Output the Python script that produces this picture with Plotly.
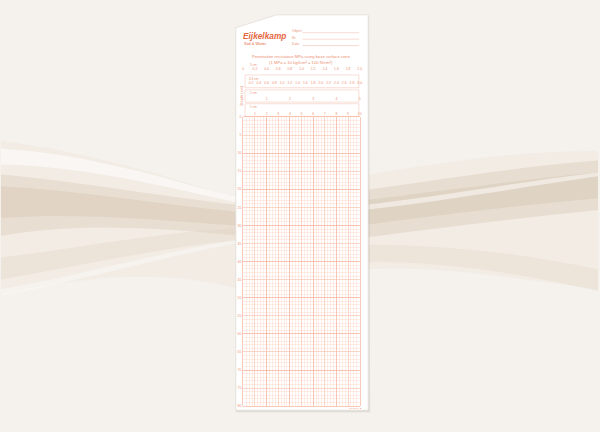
import plotly.graph_objects as go

W, H = 600, 432

# ---------------- data ----------------
depth_labels = [0, 5, 10, 15, 20, 25, 30, 35, 40, 45, 50, 55, 60, 65, 70, 75, 80]
depth_major = [0, 10, 20, 30, 40, 50, 60, 70, 80]
depth_mid = [5, 15, 25, 35, 45, 55, 65, 75]
resistance_major = [0, 2, 4, 6, 8, 10]
resistance_mid = [1, 3, 5, 7, 9]

cone_names = ["5 cm²", "3.3 cm²", "2 cm²", "1 cm²"]
cone_max = [2, 3, 5, 10]
cone_ticks = [
    [0, 0.2, 0.4, 0.6, 0.8, 1.0, 1.2, 1.4, 1.6, 1.8, 2.0],
    [0.2, 0.4, 0.6, 0.8, 1.0, 1.2, 1.4, 1.6, 1.8, 2.0, 2.2, 2.4, 2.6, 2.8, 3.0],
    [1, 2, 3, 4, 5],
    [1, 2, 3, 4, 5, 6, 7, 8, 9, 10],
]
cone_ticktext = [
    ["0", "0.2", "0.4", "0.6", "0.8", "1.0", "1.2", "1.4", "1.6", "1.8", "2.0"],
    ["0.2", "0.4", "0.6", "0.8", "1.0", "1.2", "1.4", "1.6", "1.8", "2.0", "2.2", "2.4", "2.6", "2.8", "3.0"],
    ["1", "2", "3", "4", "5"],
    ["1", "2", "3", "4", "5", "6", "7", "8", "9", "10"],
]

# ---------------- style ----------------
TXT = "#ec9072"
LOGO = "#e5673f"
FINE = "#fbdcce"
MID = "#f7c9b7"
MAJ = "#f3b49d"
FONT = "Liberation Sans"


def fx(px):
    return px / W


def fy(py):
    return 1 - py / H


def path(cmds):
    out = []
    for c in cmds:
        s = c[0]
        for (x, y) in c[1:]:
            s += " %.5f,%.5f" % (fx(x), fy(y))
        out.append(s)
    return " ".join(out) + " Z"


shapes = []


def wave(cmds, color):
    shapes.append(dict(type="path", xref="paper", yref="paper", layer="below",
                       path=path(cmds), fillcolor=color, line=dict(width=0)))


# background waves (left)
wave([("M", (0, 140)), ("C", (80, 150), (170, 175), (240, 200)),
      ("L", (240, 290)), ("C", (160, 268), (80, 278), (0, 295))], "rgba(232,222,208,0.28)")
wave([("M", (0, 174)), ("C", (70, 180), (160, 196), (240, 205)),
      ("L", (240, 236)), ("C", (160, 228), (80, 222), (0, 236))], "rgba(218,202,180,0.4)")
wave([("M", (0, 186)), ("C", (80, 190), (160, 205), (240, 212)),
      ("L", (240, 226)), ("C", (160, 220), (80, 212), (0, 218))], "rgba(208,190,166,0.3)")
wave([("M", (0, 148)), ("C", (90, 153), (170, 180), (240, 198)),
      ("L", (240, 203)), ("C", (170, 188), (90, 166), (0, 164))], "rgba(255,255,255,0.55)")
wave([("M", (0, 258)), ("C", (80, 248), (160, 232), (240, 228)),
      ("L", (240, 240)), ("C", (160, 248), (80, 266), (0, 280))], "rgba(226,212,194,0.32)")
wave([("M", (0, 290)), ("C", (80, 276), (170, 250), (240, 240)),
      ("L", (240, 243)), ("C", (170, 255), (80, 282), (0, 296))], "rgba(255,255,255,0.35)")

# background waves (right)
wave([("M", (365, 175)), ("C", (450, 160), (530, 150), (600, 150)),
      ("L", (600, 290)), ("C", (520, 280), (440, 265), (365, 270))], "rgba(232,222,208,0.28)")
wave([("M", (365, 190)), ("C", (450, 178), (530, 165), (600, 160)),
      ("L", (600, 210)), ("C", (520, 218), (440, 228), (365, 238))], "rgba(216,200,178,0.4)")
wave([("M", (365, 200)), ("C", (450, 190), (530, 178), (600, 172)),
      ("L", (600, 198)), ("C", (520, 205), (440, 215), (365, 225))], "rgba(206,188,164,0.3)")
wave([("M", (365, 205)), ("C", (450, 195), (530, 180), (600, 172)),
      ("L", (600, 176)), ("C", (530, 186), (450, 200), (365, 210))], "rgba(255,255,255,0.5)")
wave([("M", (365, 245)), ("C", (450, 245), (530, 255), (600, 270)),
      ("L", (600, 292)), ("C", (530, 275), (450, 262), (365, 262))], "rgba(224,210,192,0.3)")

# paper shadow + sheet
shapes.append(dict(type="path", xref="paper", yref="paper", layer="below",
                   path=path([("M", (236, 27)), ("L", (277, 14)), ("L", (370, 14)),
                              ("L", (371, 414)), ("L", (236, 414))]),
                   fillcolor="rgba(150,140,130,0.22)", line=dict(width=0)))
shapes.append(dict(type="path", xref="paper", yref="paper", layer="below",
                   path=path([("M", (236, 26)), ("L", (277, 13)), ("L", (369, 13)),
                              ("L", (369, 412)), ("L", (236, 412))]),
                   fillcolor="#ffffff", line=dict(color="#e2ded9", width=0.8)))

# form lines
for yy in [31, 37.5, 44]:
    shapes.append(dict(type="line", xref="paper", yref="paper", layer="below",
                       x0=fx(303), x1=fx(360), y0=fy(yy), y1=fy(yy),
                       line=dict(color="#f3c2b1", width=0.6)))

# boxes around cone scale rows 2-4
for (y0, y1) in [(73.7, 86.5), (88.7, 101), (102.7, 115.5)]:
    shapes.append(dict(type="rect", xref="paper", yref="paper", layer="below",
                       x0=fx(245.3), x1=fx(359.7), y0=fy(y1), y1=fy(y0),
                       line=dict(color="#f5c8b8", width=0.6)))

GX0, GX1 = 243.5, 360.5
GY0, GY1 = 116, 408
xdom = [fx(GX0), fx(GX1)]
ydom = [fy(GY1), fy(GY0)]

fig = go.Figure()
fig.add_trace(go.Scatter(x=[], y=[], xaxis="x", yaxis="y", showlegend=False))
fig.add_trace(go.Scatter(x=[], y=[], xaxis="x2", yaxis="y2", showlegend=False))
fig.add_trace(go.Scatter(x=[], y=[], xaxis="x", yaxis="y3", showlegend=False))
for i in range(4):
    fig.add_trace(go.Scatter(x=[], y=[], xaxis="x%d" % (i + 3), yaxis="y", showlegend=False))

tickfont = dict(size=3.4, color=TXT, family=FONT)

layout = dict(
    width=W, height=H, margin=dict(l=0, r=0, t=0, b=0),
    paper_bgcolor="#f5f2ee", plot_bgcolor="rgba(0,0,0,0)",
    showlegend=False, shapes=shapes, hovermode=False,
    xaxis=dict(domain=xdom, range=[0, 10], tickvals=resistance_major, showticklabels=False,
               showgrid=True, gridcolor=MAJ, gridwidth=0.7, zeroline=False, ticks="",
               minor=dict(dtick=0.25, showgrid=True, gridcolor=FINE, gridwidth=0.5),
               showline=True, mirror=True, linecolor=MAJ, linewidth=0.7, fixedrange=True),
    yaxis=dict(domain=ydom, range=[80, 0], tickvals=depth_major, showticklabels=False,
               showgrid=True, gridcolor=MAJ, gridwidth=0.7, zeroline=False, ticks="",
               minor=dict(dtick=1, showgrid=True, gridcolor=FINE, gridwidth=0.5),
               showline=True, mirror=True, linecolor=MAJ, linewidth=0.7, fixedrange=True),
    xaxis2=dict(domain=xdom, range=[0, 10], overlaying="x", anchor="y2", tickvals=resistance_mid,
                showticklabels=False, showgrid=True, gridcolor=MID, gridwidth=0.6,
                zeroline=False, ticks="", showline=False),
    yaxis2=dict(domain=ydom, range=[80, 0], overlaying="y", anchor="x2", tickvals=depth_mid,
                showticklabels=False, showgrid=True, gridcolor=MID, gridwidth=0.6,
                zeroline=False, ticks="", showline=False),
    yaxis3=dict(domain=ydom, range=[80, 0], overlaying="y", anchor="x", side="left",
                tickvals=depth_labels, ticktext=[str(v) for v in depth_labels],
                showgrid=False, zeroline=False, ticks="", showline=False,
                tickfont=tickfont, ticklabelstandoff=1),
)

row_pos = [64.5, 78.5, 94, 110]
for i in range(4):
    layout["xaxis%d" % (i + 3)] = dict(
        domain=xdom, range=[0, cone_max[i]], overlaying="x", anchor="free",
        position=fy(row_pos[i]), side="bottom", tickvals=cone_ticks[i],
        ticktext=cone_ticktext[i], showgrid=False, zeroline=False, ticks="",
        showline=False, tickfont=tickfont, tickangle=0)

annotations = []


def note(text, x, y, size, color=TXT, xanchor="center", **kw):
    annotations.append(dict(text=text, x=fx(x), y=fy(y), xref="paper", yref="paper",
                            showarrow=False, xanchor=xanchor, yanchor="middle",
                            font=dict(size=size, color=color, family=FONT), **kw))


note("<b><i>Eijkelkamp</i></b>", 241.5, 34.5, 8.3, LOGO, xanchor="left")
note("Soil & Water", 242, 41.5, 4.0, LOGO, xanchor="left")
note("Object", 290, 29.5, 3.4, TXT, xanchor="left")
note("Nr.", 290, 36, 3.4, TXT, xanchor="left")
note("Date", 290, 42.5, 3.4, TXT, xanchor="left")
note("Penetration resistance MPa using base surface cone", 302, 55.5, 4.2, TXT)
note("(1 MPa = 10 kgf/cm² = 100 N/cm²)", 302, 61.5, 4.2, TXT)
note("Depth (cm)", 241.5, 94, 4, TXT, textangle=-90)
for name, yy in zip(cone_names, [63.3, 77.3, 91.7, 106]):
    note(name, 254, yy, 3.0, TXT)
note("06.01.SA.E", 356, 410.3, 2.5, TXT)

layout["annotations"] = annotations
fig.update_layout(**layout)
fig.write_html("out.html", config={"displayModeBar": False, "staticPlot": True},
               post_script="document.body.style.margin='0';document.body.style.overflow='hidden';")
